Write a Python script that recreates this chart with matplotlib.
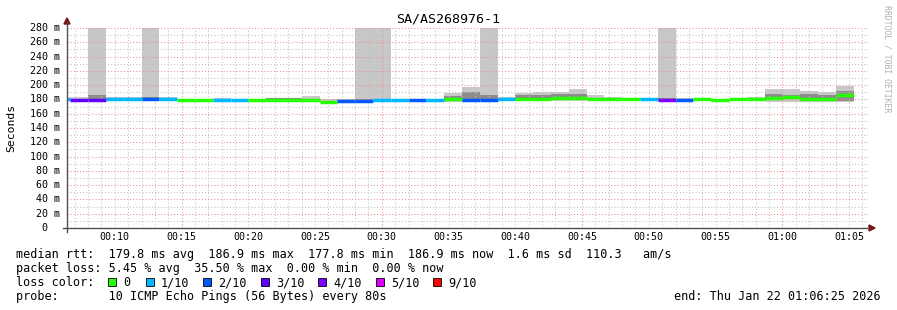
import matplotlib
matplotlib.use('Agg')
import matplotlib.pyplot as plt

W, H = 897, 310
DPI = 100

title = "SA/AS268976-1"
ylabel = "Seconds"

# time axis (minutes after 00:00)
x_start = 6 + 25/60          # 00:06:25
x_end = 66 + 25/60           # 01:06:25
step_min = 80 / 60           # 80 s steps
first_edge = 5 + 20/60       # 00:05:20

# per-step data (45 steps of 80 s)
median = [180, 179, 179, 180, 180, 180, 180, 179, 179, 179.5,
          179.5, 179, 179, 179, 179, 176.5, 177.5, 178, 179.5, 179.5,
          179, 179.5, 180, 179, 179.5, 180, 180, 181, 181.5, 182,
          180.5, 180, 180, 180, 179, 179.5, 180, 179.5, 180, 180,
          182, 184, 181, 180, 186]
loss = [1, 3, 3, 1, 1, 2, 1, 0, 0, 1,
        1, 0, 0, 0, 0, 0, 2, 2, 1, 1,
        2, 1, 0, 2, 2, 1, 0, 0, 0, 0,
        0, 0, 0, 1, 4, 2, 0, 0, 0, 0,
        0, 0, 0, 0, 0]
outer_lo = [180, 180, 180, 180, 180, 180, 180, 179, 179, 180,
            180, 179, 179, 179, 179, 176, 177, 178, 179, 180,
            180, 180, 177, 177, 180, 180, 178, 178, 178, 178,
            179, 179, 179, 180, 180, 180, 180, 178, 180, 180,
            177, 177, 177, 177, 176]
outer_hi = [182, 183, 300, 183, 183, 300, 184, 181, 181, 182,
            181, 181, 182, 182, 185, 180, 180, 300, 300, 181,
            181, 181, 189, 197, 300, 183, 189, 190, 190, 194,
            186, 184, 182, 182, 300, 182, 181, 181, 181, 183,
            194, 195, 192, 190, 199]
inner_lo = [180, 180, 180, 180, 180, 180, 180, 179, 179, 180,
            180, 179, 179, 179, 179, 176, 177, 178, 180, 180,
            180, 180, 178, 178, 180, 180, 179, 179, 180, 180,
            180, 179, 179, 180, 180, 180, 180, 178, 180, 180,
            179, 180, 179, 179, 178]
inner_hi = [181, 181, 186, 182, 181, 184, 181, 180, 180, 181,
            180, 180, 181.5, 181.5, 181, 178, 179, 181, 181, 181,
            181, 181, 185, 190, 186, 181, 186, 186, 187, 187,
            182, 181, 181, 181, 182, 181, 180, 181, 180, 181,
            187, 186, 188, 186, 192]

loss_colors = {0: '#26ff00', 1: '#00b8ff', 2: '#0059ff', 3: '#5e00ff',
               4: '#7e00ff', 5: '#dd00ff', 9: '#ff0000'}
legend_loss = [0, 1, 2, 3, 4, 5, 9]
legend_loss_labels = ["0", "1/10", "2/10", "3/10", "4/10", "5/10", "9/10"]

y_ticks = [0, 20, 40, 60, 80, 100, 120, 140, 160, 180, 200, 220, 240, 260, 280]
x_ticks = [10, 15, 20, 25, 30, 35, 40, 45, 50, 55, 60, 65]
x_tick_labels = ["00:10", "00:15", "00:20", "00:25", "00:30", "00:35",
                 "00:40", "00:45", "00:50", "00:55", "01:00", "01:05"]

stats_line1 = "median rtt:  179.8 ms avg  186.9 ms max  177.8 ms min  186.9 ms now  1.6 ms sd  110.3   am/s"
stats_line2 = "packet loss: 5.45 % avg  35.50 % max  0.00 % min  0.00 % now"
probe_line = "probe:       10 ICMP Echo Pings (56 Bytes) every 80s"
end_text = "end: Thu Jan 22 01:06:25 2026"

MONO = 'DejaVu Sans Mono'

fig = plt.figure(figsize=(W / DPI, H / DPI), dpi=DPI)
fig.patch.set_facecolor('white')

L, R, T, B = 67, 868, 28, 228
ax = fig.add_axes([L / W, (H - B) / H, (R - L) / W, (B - T) / H])
ax.set_xlim(x_start, x_end)
ax.set_ylim(0, 280)
ax.set_facecolor('white')
for s in ax.spines.values():
    s.set_visible(False)
ax.set_xticks([])
ax.set_yticks([])

n = len(median)
lefts = [first_edge + i * step_min for i in range(n)]
rights = [l + step_min for l in lefts]

# smoke
ax.bar(lefts, [h - l for h, l in zip(outer_hi, outer_lo)], bottom=outer_lo,
       width=step_min, align='edge', color='#c8c8c8', linewidth=0, zorder=1)
ax.bar(lefts, [h - l for h, l in zip(inner_hi, inner_lo)], bottom=inner_lo,
       width=step_min, align='edge', color='#8c8c8c', linewidth=0, zorder=1.1)

# grid
minor_kw = dict(color='#c0c0c0', lw=0.75, ls=(0, (1, 2)), zorder=2)
major_kw = dict(color='#f08c8c', lw=0.75, ls=(0, (1, 2)), zorder=2.1)
for m in range(7, 67):
    if m % 15 == 0:
        ax.axvline(m, **major_kw)
    else:
        ax.axvline(m, **minor_kw)
for v in range(10, 290, 10):
    if v % 20 == 0:
        ax.axhline(v, **major_kw)
    else:
        ax.axhline(v, **minor_kw)

# median line
ax.hlines(median, lefts, rights, colors=[loss_colors[l] for l in loss],
          lw=2.5, zorder=3)

# axes lines with arrows (figure pixels)
def fx(x):
    return x / W

def fy(y):
    return 1 - y / H

fig.add_artist(plt.Line2D([fx(67), fx(67)], [fy(232), fy(22)], color='#505050', lw=1.0))
fig.add_artist(plt.Line2D([fx(63), fx(870)], [fy(228), fy(228)], color='#505050', lw=1.0))
fig.add_artist(plt.Polygon([[fx(64), fy(24)], [fx(70), fy(24)], [fx(67), fy(18)]],
                           closed=True, color='#7a1010', transform=fig.transFigure))
fig.add_artist(plt.Polygon([[fx(869), fy(225)], [fx(869), fy(231)], [fx(875), fy(228)]],
                           closed=True, color='#7a1010', transform=fig.transFigure))

# tick labels
for v in y_ticks:
    ypix = B - v * (B - T) / 280
    lab = f"{v} m" if v else "0"
    xr = 60 if v else 47
    fig.text(fx(xr), fy(ypix), lab, ha='right', va='center', family=MONO,
             fontsize=7.2, color='#000000')
for t, lab in zip(x_ticks, x_tick_labels):
    xpix = L + (t - x_start) * (R - L) / (x_end - x_start)
    fig.text(fx(xpix), fy(237.5), lab, ha='center', va='center', family=MONO,
             fontsize=7.2, color='#000000')

# title, ylabel, watermark
fig.text(fx(448), fy(19), title, ha='center', va='center', family=MONO, fontsize=9.6)
fig.text(fx(11), fy(128), ylabel, ha='center', va='center', rotation=90,
         family=MONO, fontsize=8.2)
fig.text(fx(887), fy(5), "RRDTOOL / TOBI OETIKER", ha='center', va='top',
         rotation=270, family=MONO, fontsize=5.9, color='#b0b0b0')

# legend text
fs = 8.45
fig.text(fx(16), fy(258), stats_line1, ha='left', va='baseline', family=MONO, fontsize=fs)
fig.text(fx(16), fy(272), stats_line2, ha='left', va='baseline', family=MONO, fontsize=fs)
fig.text(fx(16), fy(286), "loss color:", ha='left', va='baseline', family=MONO, fontsize=fs)
box_x = [108, 146, 203, 261, 318, 376, 433]
for bx, lv, lab in zip(box_x, legend_loss, legend_loss_labels):
    fig.add_artist(plt.Rectangle((fx(bx), fy(286)), 8 / W, 8 / H,
                                 facecolor=loss_colors[lv], edgecolor='black',
                                 lw=0.6, transform=fig.transFigure))
    fig.text(fx(bx + 15), fy(286), lab, ha='left', va='baseline', family=MONO, fontsize=fs)
fig.text(fx(16), fy(300), probe_line, ha='left', va='baseline', family=MONO, fontsize=fs)
fig.text(fx(881), fy(300), end_text, ha='right', va='baseline', family=MONO, fontsize=fs)

fig.savefig('out.png', dpi=DPI, facecolor='white')
